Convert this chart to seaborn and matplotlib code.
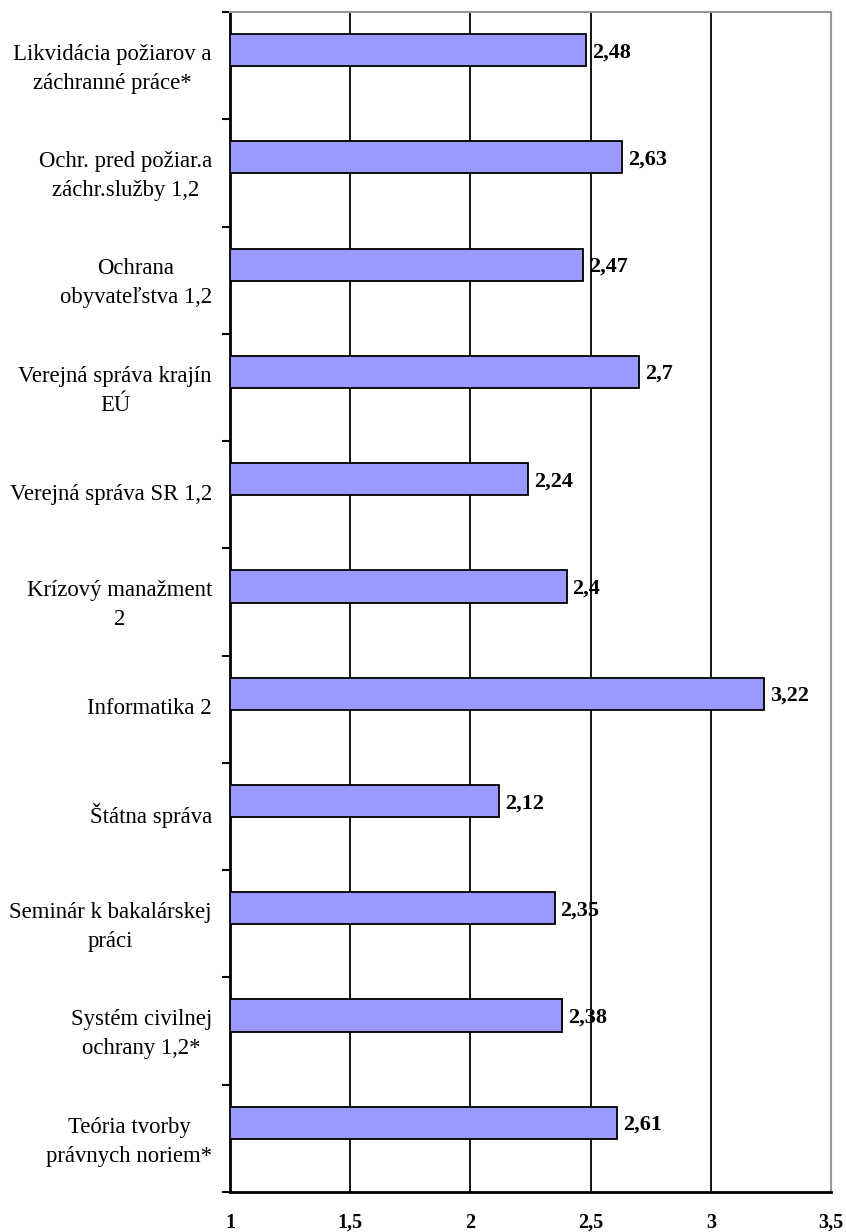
import numpy as np
import pandas as pd
import matplotlib
matplotlib.use('Agg')
import matplotlib.pyplot as plt
import seaborn as sns

# Dáta
predmety = [
    "Likvidácia požiarov a\nzáchranné práce*",
    "Ochr. pred požiar.a\nzáchr.služby 1,2",
    "Ochrana\nobyvateľstva 1,2",
    "Verejná správa krajín\nEÚ",
    "Verejná správa SR 1,2",
    "Krízový manažment\n2",
    "Informatika 2",
    "Štátna správa",
    "Seminár k bakalárskej\npráci",
    "Systém civilnej\nochrany 1,2*",
    "Teória tvorby\nprávnych noriem*",
]
hodnoty = [2.48, 2.63, 2.47, 2.7, 2.24, 2.4, 3.22, 2.12, 2.35, 2.38, 2.61]
x_ticky = [1, 1.5, 2, 2.5, 3, 3.5]
x_popisy = ["1", "1,5", "2", "2,5", "3", "3,5"]

data = pd.DataFrame({"predmet": predmety, "hodnota": hodnoty})

sns.set_style("white")
plt.rcParams['font.family'] = ['Liberation Serif', 'DejaVu Serif']
plt.rcParams['text.color'] = 'black'
plt.rcParams['xtick.color'] = 'black'
plt.rcParams['ytick.color'] = 'black'

fig = plt.figure(figsize=(8.46, 12.32), dpi=100)
ax = fig.add_axes([230 / 846, 1 - 1192 / 1232, 601 / 846, 1180 / 1232])

# stĺpce začínajú od 1, preto left=1
sns.barplot(data=data, y="predmet", x=data["hodnota"] - 1, left=1, orient="h",
            color="#9999FF", saturation=1, width=0.3, edgecolor="black",
            linewidth=1.3, ax=ax, zorder=3)

# stĺpec nie je v strede kategórie (posun ako v Exceli)
posun = 0.355
n = len(predmety)
ax.set_xlim(1, 3.5)
ax.set_ylim(n - posun, -posun)
ax.set_xlabel("")
ax.set_ylabel("")

# mriežka
for x in x_ticky[1:-1]:
    ax.axvline(x, color="black", linewidth=1.3, zorder=0)

ax.set_xticks(x_ticky)
ax.set_xticklabels(x_popisy, fontsize=14.5, fontweight="bold")
ax.tick_params(axis="x", direction="out", length=6, width=1.5, pad=9)

ax.set_yticks(np.arange(n) + 0.5 - posun - 0.03)
ax.set_yticklabels(predmety, fontsize=16.4, multialignment="center", linespacing=1.5)
ax.tick_params(axis="y", which="major", length=0, pad=13)
ax.set_yticks(np.arange(n + 1) - posun, minor=True)
ax.tick_params(axis="y", which="minor", direction="out", length=6, width=1.5, left=True)

for s in ["left", "bottom"]:
    ax.spines[s].set_color("black")
    ax.spines[s].set_linewidth(2)
for s in ["top", "right"]:
    ax.spines[s].set_color("#999999")
    ax.spines[s].set_linewidth(1.5)

# popisy hodnôt
for i, v in enumerate(hodnoty):
    ax.text(v + 0.025, i + 0.02, ("%g" % v).replace(".", ","), va="center", ha="left",
            fontsize=16, fontweight="bold", zorder=4)

plt.savefig("out.png", dpi=100)
